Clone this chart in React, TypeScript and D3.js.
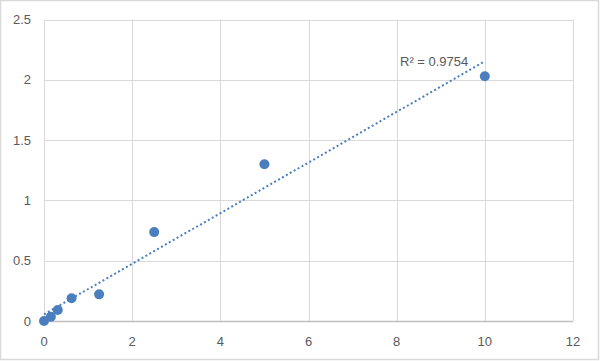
import React from "react";
import * as d3 from "d3";

const xValues = [0, 0.156, 0.3125, 0.625, 1.25, 2.5, 5, 10];
const yValues = [0, 0.036, 0.091, 0.188, 0.221, 0.737, 1.3, 2.03];
const xTicks = [0, 2, 4, 6, 8, 10, 12];
const yTicks = [0, 0.5, 1, 1.5, 2, 2.5];
const rSquaredLabel = "R² = 0.9754";

const W = 600;
const H = 361;
const FONT = "'Liberation Sans', Arial, sans-serif";
const BLUE = "#4a7ebf";
const TEXT = "#595959";
const GRID = "#d9d9d9";

export default function App() {
  const x = d3.scaleLinear().domain([0, 12]).range([44, 573]);
  const y = d3.scaleLinear().domain([0, 2.5]).range([321, 19.5]);

  const n = xValues.length;
  const mx = d3.mean(xValues) as number;
  const my = d3.mean(yValues) as number;
  let sxy = 0;
  let sxx = 0;
  for (let i = 0; i < n; i++) {
    sxy += (xValues[i] - mx) * (yValues[i] - my);
    sxx += (xValues[i] - mx) ** 2;
  }
  const slope = sxy / sxx;
  const intercept = my - slope * mx;
  const xMin = d3.min(xValues) as number;
  const xMax = d3.max(xValues) as number;
  const line = d3
    .line<number>()
    .x((d) => x(d))
    .y((d) => y(intercept + slope * d));

  return (
    <svg
      width={W}
      height={H}
      style={{ position: "absolute", left: 0, top: 0, background: "#fff" }}
      fontFamily={FONT}
    >
      <rect x={0.5} y={0.5} width={598} height={359} fill="#fff" stroke={GRID} strokeWidth={1.5} />
      {yTicks.map((t) => (
        <line key={"hy" + t} x1={44} x2={573} y1={Math.round(y(t)) + 0.5} y2={Math.round(y(t)) + 0.5} stroke={GRID} strokeWidth={1} />
      ))}
      {xTicks.map((t) => (
        <line key={"vx" + t} x1={Math.round(x(t)) + 0.5} x2={Math.round(x(t)) + 0.5} y1={y(2.5)} y2={y(0)} stroke={GRID} strokeWidth={1} />
      ))}
      <line x1={44} x2={573} y1={y(0) + 0.5} y2={y(0) + 0.5} stroke="#bfbfbf" strokeWidth={1.5} />
      {yTicks.map((t) => (
        <text key={"ty" + t} x={31} y={y(t) + 4.5} textAnchor="end" fontSize={13} fill={TEXT}>
          {String(t)}
        </text>
      ))}
      {xTicks.map((t) => (
        <text key={"tx" + t} x={x(t)} y={346} textAnchor="middle" fontSize={13} fill={TEXT}>
          {String(t)}
        </text>
      ))}
      <path
        d={line([xMin, xMax]) || ""}
        fill="none"
        stroke={BLUE}
        strokeWidth={2}
        strokeDasharray="2 2.5"
      />
      {xValues.map((xv, i) => (
        <circle key={"p" + i} cx={x(xv)} cy={y(yValues[i])} r={5} fill={BLUE} />
      ))}
      <text x={400} y={66} fontSize={13} fill={TEXT}>
        {rSquaredLabel}
      </text>
    </svg>
  );
}
